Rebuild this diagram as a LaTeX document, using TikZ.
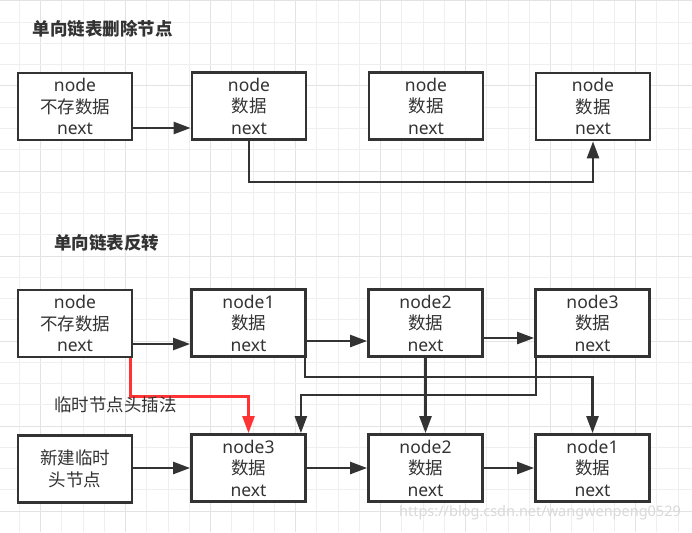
\documentclass[tikz,border=0pt]{standalone}
\usepackage{fontspec}
\setmainfont{Noto Sans}
\newfontfamily\cjk{Noto Sans CJK SC}
\usetikzlibrary{arrows.meta,calc}
\definecolor{ink}{HTML}{333333}
\definecolor{redln}{HTML}{FF3333}
\definecolor{gridminor}{HTML}{EFEFEF}
\definecolor{gridmajor}{HTML}{E3E3E3}
\definecolor{wm}{HTML}{D9D9D9}
\begin{document}
\begin{tikzpicture}[x=1pt,y=-1pt,
  box/.style={draw=ink, line width=2.8pt, fill=white, minimum width=114pt, minimum height=67pt,
    inner sep=0pt, align=center, text=ink, font=\fontsize{17.5}{21.5}\selectfont},
  conn/.style={draw=ink, line width=2.5pt, -{Triangle[length=17pt,width=12pt]}},
  redconn/.style={draw=redln, line width=2.5pt, -{Triangle[length=17pt,width=12pt]}},
  title/.style={text=ink, font=\fontsize{17.5}{21}\selectfont\cjk\bfseries, inner sep=0pt},
  lbl/.style={text=ink, font=\fontsize{17.5}{21}\selectfont\cjk, inner sep=0pt}]
\useasboundingbox (0,0) rectangle (692,532);
\fill[white] (0,0) rectangle (692,532);
% grid
\foreach \i in {-1,...,31} {
  \pgfmathsetmacro\xx{40.5+21.25*\i}
  \pgfmathtruncatemacro\mm{mod(\i+40,4)}
  \ifnum\mm=0 \draw[gridmajor,line width=1pt] (\xx,0) -- (\xx,532);
  \else \draw[gridminor,line width=1pt] (\xx,0) -- (\xx,532); \fi
}
\foreach \j in {0,...,24} {
  \pgfmathsetmacro\yy{1+21.25*\j}
  \pgfmathtruncatemacro\mm{mod(\j,4)}
  \ifnum\mm=0 \draw[gridmajor,line width=1pt] (0,\yy) -- (692,\yy);
  \else \draw[gridminor,line width=1pt] (0,\yy) -- (692,\yy); \fi
}
% titles
\node[title] (t1) at (102.5,29) {单向链表删除节点};
\node[title] (t2) at (106.5,243) {单向链表反转};
% top section
\node[box] (A) at (75,106.5) {node\\{\cjk 不存数据}\\next};
\node[box] (B) at (249,106) {node\\{\cjk 数据}\\next};
\node[box] (C) at (426,106) {node\\{\cjk 数据}\\next};
\node[box] (D) at (593,106.5) {node\\{\cjk 数据}\\next};
\draw[conn] (A.east |- 0,128) -- (B.west |- 0,128);
\draw[conn] (B.south) -- ++(0,41) -| (D.south);
% bottom section
\node[box] (P) at (75,323.5) {node\\{\cjk 不存数据}\\next};
\node[box] (n1t) at (248.5,323) {node1\\{\cjk 数据}\\next};
\node[box] (n2t) at (425.5,323) {node2\\{\cjk 数据}\\next};
\node[box] (n3t) at (592.5,323) {node3\\{\cjk 数据}\\next};
\node[box] (H) at (75,469) {{\cjk 新建临时}\\{\cjk 头节点}};
\node[box] (n3b) at (248.5,468) {node3\\{\cjk 数据}\\next};
\node[box] (n2b) at (425.5,468) {node2\\{\cjk 数据}\\next};
\node[box] (n1b) at (592.5,468) {node1\\{\cjk 数据}\\next};
\draw[conn] (P.east |- 0,344) -- (n1t.west |- 0,344);
\draw[conn] (n1t.east |- 0,341) -- (n2t.west |- 0,341);
\draw[conn] (n2t.east |- 0,338) -- (n3t.west |- 0,338);
\draw[conn] (H.east |- 0,468) -- (n3b.west |- 0,468);
\draw[conn] (n3b.east) -- (n2b.west);
\draw[conn] (n2b.east) -- (n1b.west);
\draw[conn] ([xshift=-2pt]n1t.south east) -- ++(0,19) -| (n1b.north);
\draw[conn] (n2t.south) -- (n2b.north);
\draw[conn] ([xshift=2pt]n3t.south west) -- ++(0,37) -| ([xshift=-6pt]n3b.north east);
\draw[redconn] ([xshift=-3pt]P.south east) -- ++(0,38) -| (n3b.north);
\node[lbl] (lab) at (115.5,405) {临时节点头插法};
\node[text=wm, font=\fontsize{14.5}{18}\selectfont, inner sep=0pt] (wmk) at (540,513) {https://blog.csdn.net/wangwenpeng0529};
\end{tikzpicture}
\end{document}
